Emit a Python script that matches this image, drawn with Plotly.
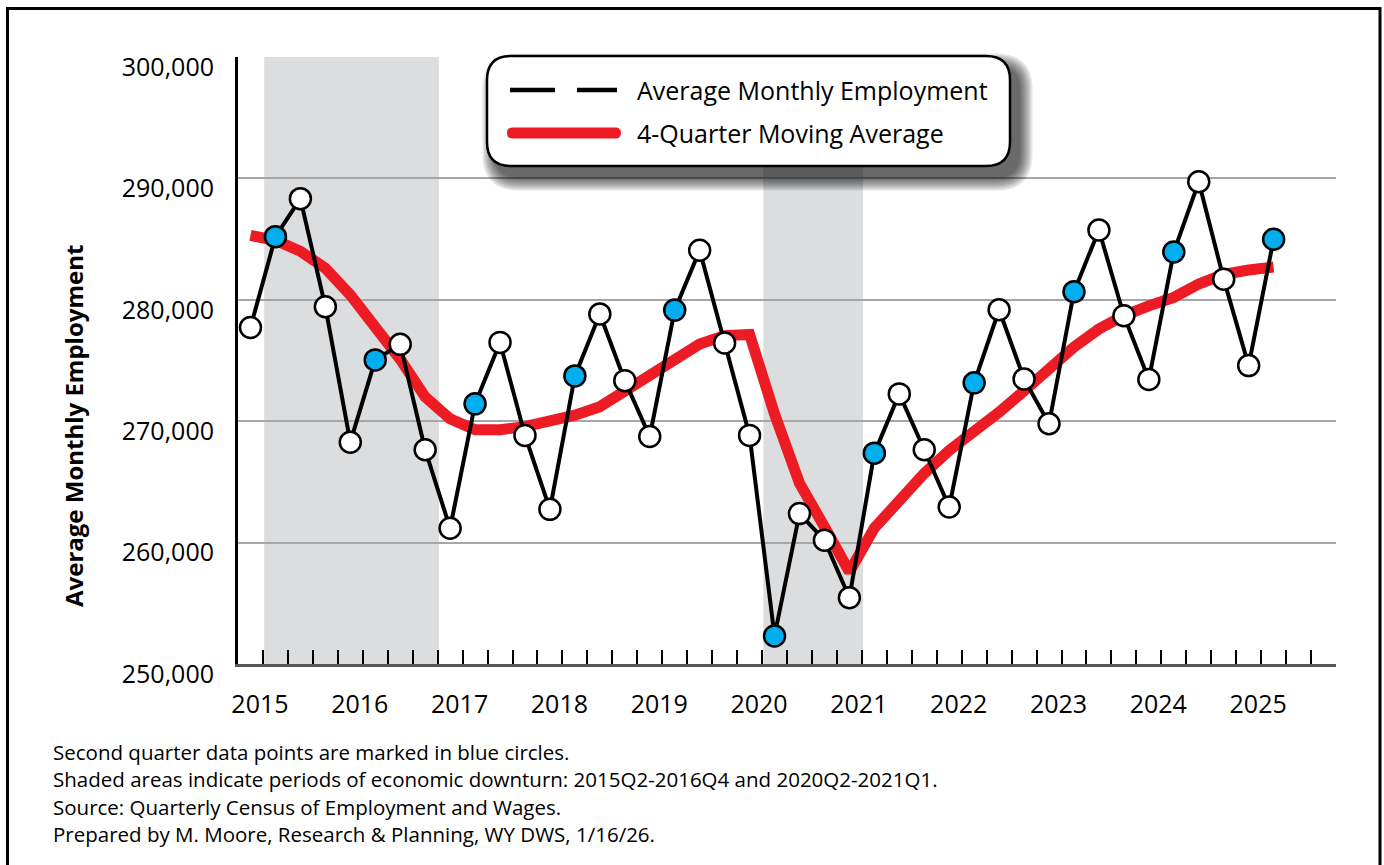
import plotly.graph_objects as go

# ---------------- data ----------------
quarters = [
    "2015Q1", "2015Q2", "2015Q3", "2015Q4",
    "2016Q1", "2016Q2", "2016Q3", "2016Q4",
    "2017Q1", "2017Q2", "2017Q3", "2017Q4",
    "2018Q1", "2018Q2", "2018Q3", "2018Q4",
    "2019Q1", "2019Q2", "2019Q3", "2019Q4",
    "2020Q1", "2020Q2", "2020Q3", "2020Q4",
    "2021Q1", "2021Q2", "2021Q3", "2021Q4",
    "2022Q1", "2022Q2", "2022Q3", "2022Q4",
    "2023Q1", "2023Q2", "2023Q3", "2023Q4",
    "2024Q1", "2024Q2", "2024Q3", "2024Q4",
    "2025Q1", "2025Q2",
]
employment = [
    277720, 285200, 288330, 279430,
    268270, 275050, 276330, 267650,
    261180, 271430, 276490, 268830,
    262740, 273730, 278830, 273340,
    268740, 279150, 284080, 276440,
    268830, 252310, 262390, 260200,
    255460, 267370, 272250, 267650,
    262930, 273160, 279180, 273480,
    269790, 280660, 285750, 278690,
    273430, 283940, 289720, 281700,
    274580, 284990,
]
moving_avg = [
    285300, 284900, 284000, 282600,
    280400, 277900, 275100, 272000,
    270200, 269300, 269300, 269550,
    270000, 270500, 271200, 272500,
    273900, 275150, 276350, 277050,
    277150, 270600, 264900, 261300,
    257600, 261200, 263600, 265700,
    267600, 269100, 270750, 272500,
    274400, 276100, 277600, 278700,
    279500, 280200, 281300, 282100,
    282450, 282700,
]
years = [2015, 2016, 2017, 2018, 2019, 2020, 2021, 2022, 2023, 2024, 2025]
downturns = [("2015Q2", "2016Q4"), ("2020Q2", "2021Q1")]
y_ticks = [250000, 260000, 270000, 280000, 290000, 300000]
last_axis_quarter = "2025Q4"

legend_labels = ["Average Monthly Employment", "4-Quarter Moving Average"]
footnotes = [
    "Second quarter data points are marked in blue circles.",
    "Shaded areas indicate periods of economic downturn: 2015Q2-2016Q4 and 2020Q2-2021Q1.",
    "Source: Quarterly Census of Employment and Wages.",
    "Prepared by M. Moore, Research & Planning, WY DWS, 1/16/26.",
]

# ---------------- helpers ----------------
def qidx(q):
    return (int(q[:4]) - 2015) * 4 + int(q[-1]) - 1

x = [qidx(q) for q in quarters]
n_axis = qidx(last_axis_quarter) + 1
marker_colors = ["#00AEEF" if q.endswith("Q2") else "white" for q in quarters]

W, H = 1384, 865
ML, MR, MT, MB = 238, 48, 57, 201
PW, PH = W - ML - MR, H - MT - MB

def px(xp):
    return (xp - ML) / PW

def py(yp):
    return (MT + PH - yp) / PH

def P(a, b):
    return f"{px(a):.5f},{py(b):.5f}"

def rrect(x0, y0, x1, y1, r):
    return (f"M {P(x0 + r, y0)} L {P(x1 - r, y0)} Q {P(x1, y0)} {P(x1, y0 + r)} "
            f"L {P(x1, y1 - r)} Q {P(x1, y1)} {P(x1 - r, y1)} "
            f"L {P(x0 + r, y1)} Q {P(x0, y1)} {P(x0, y1 - r)} "
            f"L {P(x0, y0 + r)} Q {P(x0, y0)} {P(x0 + r, y0)} Z")

FONT = "Open Sans"

fig = go.Figure()

fig.add_trace(go.Scatter(
    x=x, y=moving_avg, mode="lines",
    line=dict(color="#ED1C24", width=11),
    name=legend_labels[1], hoverinfo="skip",
))
fig.add_trace(go.Scatter(
    x=x, y=employment, mode="lines+markers",
    line=dict(color="black", width=4),
    marker=dict(size=21, color=marker_colors, line=dict(color="black", width=2.5)),
    name=legend_labels[0],
))

shapes = []
for a, b in downturns:
    shapes.append(dict(type="rect", xref="x", yref="paper",
                       x0=qidx(a) - 0.45, x1=qidx(b) + 0.55, y0=0, y1=1,
                       fillcolor="#DCDDDF", line=dict(width=0), layer="below"))

# legend box with shadow
bx0, by0, bx1, by1 = 487, 56, 1010, 166
for i in range(8):
    e = 1.8 * i
    shapes.append(dict(type="path", xref="paper", yref="paper",
                       path=rrect(bx0 + 8 - e, by0 + 10 - e, bx1 + 10 + e, by1 + 12 + e, 24 + e),
                       fillcolor="rgba(0,0,0,0.1)", line=dict(width=0), layer="above"))
shapes.append(dict(type="path", xref="paper", yref="paper",
                   path=rrect(bx0, by0, bx1, by1, 24),
                   fillcolor="white", line=dict(color="black", width=2.5), layer="above"))
# legend symbols
for a, b in [(510, 555), (577, 617)]:
    shapes.append(dict(type="line", xref="paper", yref="paper",
                       x0=px(a), x1=px(b), y0=py(90), y1=py(90),
                       line=dict(color="black", width=4.5), layer="above"))
shapes.append(dict(type="path", xref="paper", yref="paper",
                   path=rrect(507, 127.5, 621, 138.5, 5.5),
                   fillcolor="#ED1C24", line=dict(width=0), layer="above"))
# outer frame
shapes.append(dict(type="rect", xref="paper", yref="paper",
                   x0=px(7.5), x1=px(1380), y0=py(8.5), y1=py(900),
                   line=dict(color="black", width=3), fillcolor="rgba(0,0,0,0)", layer="above"))

annotations = []
for i, (lab, yy) in enumerate(zip(legend_labels, [90, 133])):
    annotations.append(dict(xref="paper", yref="paper", x=px(635), y=py(yy),
                            xanchor="left", yanchor="middle", showarrow=False,
                            text=lab, font=dict(family=FONT, size=25, color="black")))
for i, t in enumerate(footnotes):
    annotations.append(dict(xref="paper", yref="paper", x=px(51), y=py(752 + i * 27.3),
                            xanchor="left", yanchor="middle", showarrow=False,
                            text=t, font=dict(family=FONT, size=20.5, color="black")))
annotations.append(dict(xref="paper", yref="paper", x=px(73), y=py(426),
                        xanchor="center", yanchor="middle", showarrow=False, textangle=-90,
                        text="<b>Average Monthly Employment</b>",
                        font=dict(family=FONT, size=24, color="black")))

tickvals = [k + 0.5 for k in range(n_axis)]
ticktext = [str(2015 + k // 4) if k % 4 == 0 and (2015 + k // 4) in years else "" for k in range(n_axis)]

fig.update_layout(
    width=W, height=H,
    margin=dict(l=ML, r=MR, t=MT, b=MB),
    paper_bgcolor="white", plot_bgcolor="white",
    showlegend=False,
    font=dict(family=FONT, color="black"),
    shapes=shapes, annotations=annotations,
    xaxis=dict(range=[-0.5, n_axis - 0.5], showgrid=False, zeroline=False,
               showline=True, linecolor="#595959", linewidth=3,
               tickmode="array", tickvals=tickvals, ticktext=ticktext,
               ticks="inside", ticklen=14, tickwidth=2, tickcolor="black",
               ticklabelshift=-3, ticklabelstandoff=16,
               tickfont=dict(family=FONT, size=25, color="black")),
    yaxis=dict(range=[250000, 300000], tickvals=y_ticks,
               tickformat=",d", showgrid=True, gridcolor="#A6A6A6", gridwidth=1.5,
               zeroline=False, showline=True, linecolor="black", linewidth=3,
               ticks="", ticklabelshift=10, ticklabelstandoff=16,
               tickfont=dict(family=FONT, size=25, color="black")),
)

fig.write_html("out.html", config={"displayModeBar": False},
               post_script="document.body.style.margin='0';document.body.style.overflow='hidden';")
